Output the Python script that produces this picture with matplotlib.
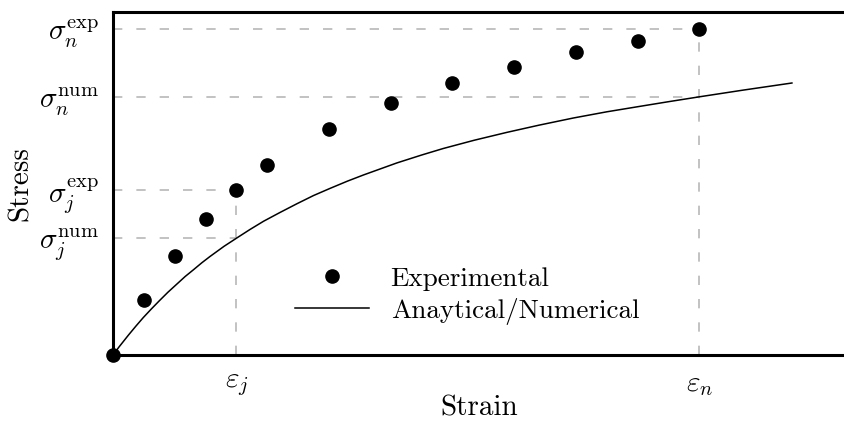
import matplotlib
matplotlib.use("Agg")
import matplotlib.pyplot as plt

plt.rcParams['font.family'] = 'serif'
plt.rcParams['font.serif'] = ['cmr10']
plt.rcParams['mathtext.fontset'] = 'cm'

# experimental stress-strain points
exp_strain = [0.0, 0.5, 1.0, 1.5, 2.0, 2.5, 3.5, 4.5, 5.5, 6.5, 7.5, 8.5, 9.5]
exp_stress = [0.0, 1.59, 2.90, 3.96, 4.81, 5.54, 6.59, 7.35, 7.93, 8.40, 8.83, 9.15, 9.50]

# analytical / numerical curve
num_strain = [0.0, 0.1, 0.25, 0.37, 0.49, 0.62, 0.75, 0.89, 1.03, 1.17, 1.3, 1.44,
              1.57, 1.8, 2.03, 2.22, 2.44, 2.7, 2.98, 3.25, 3.52, 3.8, 4.06, 4.6,
              5.0, 5.35, 5.85, 6.38, 6.9, 7.46, 8.0, 8.54, 9.0, 9.51, 10.2, 11.0]
num_stress = [0.0, 0.24, 0.58, 0.84, 1.09, 1.34, 1.58, 1.83, 2.06, 2.29, 2.48, 2.69,
              2.87, 3.17, 3.44, 3.66, 3.90, 4.15, 4.41, 4.65, 4.86, 5.07, 5.25, 5.60,
              5.83, 6.02, 6.26, 6.49, 6.70, 6.91, 7.09, 7.25, 7.385, 7.53, 7.72, 7.93]

eps_j, eps_n = 2.0, 9.5
sig_j_exp, sig_j_num = 4.81, 3.41
sig_n_exp, sig_n_num = 9.50, 7.52

fig = plt.figure(figsize=(8.45, 4.22), dpi=100)
ax = fig.add_axes([113/845, 67/422, 1 - 113/845, 343/422])

grey = '#c2c2c2'
dash = dict(color=grey, lw=1.4, ls=(0, (4.8, 7.2)), zorder=1)
for s, e in [(sig_j_exp, eps_j), (sig_j_num, eps_j), (sig_n_exp, eps_n), (sig_n_num, eps_n)]:
    ax.plot([0, e], [s, s], **dash)
ax.plot([eps_j, eps_j], [0, sig_j_exp], **dash)
ax.plot([eps_n, eps_n], [0, sig_n_exp], **dash)

ax.plot(exp_strain, exp_stress, 'o', color='black', ms=9.5, ls='none',
        clip_on=False, zorder=4, label='Experimental')
ax.plot(num_strain, num_stress, '-', color='black', lw=1.1, zorder=3,
        label='Anaytical/Numerical')

ax.set_xlim(0, 11.86)
ax.set_ylim(0, 10)
for side in ['left', 'bottom', 'top']:
    ax.spines[side].set_linewidth(2.2)
ax.spines['right'].set_visible(False)

ax.set_xticks([eps_j, eps_n])
ax.set_xticklabels([r'$\varepsilon_j$', r'$\varepsilon_n$'])
ax.set_yticks([sig_j_num, sig_j_exp, sig_n_num, sig_n_exp])
ax.set_yticklabels([r'$\sigma_j^{\mathrm{num}}$', r'$\sigma_j^{\mathrm{exp}}$',
                    r'$\sigma_n^{\mathrm{num}}$', r'$\sigma_n^{\mathrm{exp}}$'])
ax.tick_params(length=0, labelsize=21)
ax.tick_params(axis='y', pad=10)
ax.tick_params(axis='x', pad=12)

ax.set_xlabel('Strain', fontsize=21, labelpad=-2)
ax.set_ylabel('Stress', fontsize=21, labelpad=4)

ax.legend(loc='upper left', bbox_to_anchor=(295/845, 1 - 267/422),
          bbox_transform=fig.transFigure, frameon=False, fontsize=19.5,
          handlelength=2.75, handletextpad=0.78, labelspacing=0.25,
          borderpad=0, borderaxespad=0)

fig.savefig('out.png', dpi=100)
